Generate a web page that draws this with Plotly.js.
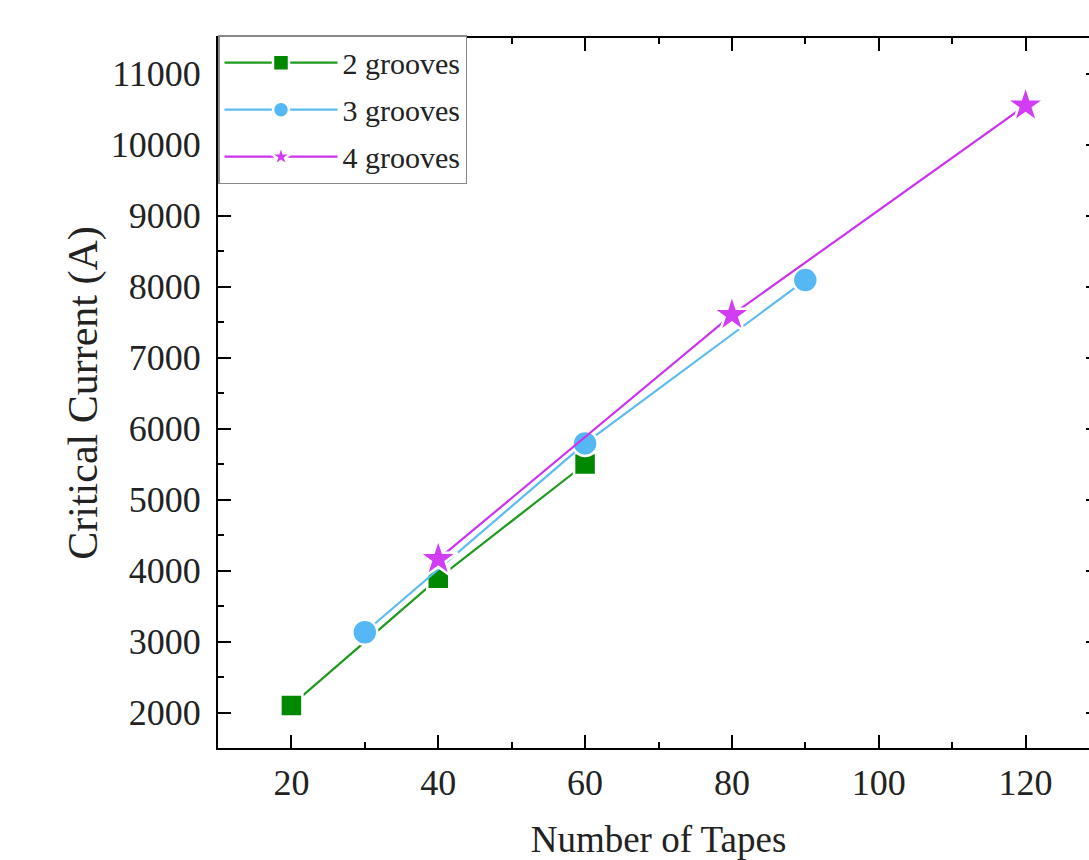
<!DOCTYPE html>
<html>
<head>
<meta charset="utf-8">
<script src="https://cdn.plot.ly/plotly-3.0.1.min.js"></script>
<style>
html, body { margin:0; padding:0; overflow:hidden; background:#fff; }
#chart { width:1110px; height:860px; }
</style>
</head>
<body>
<div id="chart"></div>
<script>
const tapes2 = [20, 40, 60];
const current2 = [2100, 3890, 5500];
const tapes3 = [30, 60, 90];
const current3 = [3130, 5790, 8090];
const tapes4 = [40, 80, 120];
const current4 = [4160, 7600, 10550];
const seriesNames = ['2 grooves', '3 grooves', '4 grooves'];

const font = 'Liberation Serif, Times New Roman, serif';

const traces = [
  {x: tapes2, y: current2, name: seriesNames[0], legendgroup: 'g2', mode: 'lines+markers', type: 'scatter',
   line: {color: '#1f9a1f', width: 2.2},
   marker: {symbol: 'square', size: 22, color: '#008800', line: {color: '#ffffff', width: 2.5}}},
  {x: tapes3, y: current3, name: seriesNames[1], legendgroup: 'g3', mode: 'lines+markers', type: 'scatter',
   line: {color: '#5bbcf0', width: 2.2},
   marker: {symbol: 'circle', size: 25, color: '#55b8f5', line: {color: '#ffffff', width: 2.5}}},
  {x: tapes4, y: current4, name: seriesNames[2], legendgroup: 'g4', mode: 'lines+markers', type: 'scatter',
   line: {color: '#cc33ee', width: 2.2},
   marker: {symbol: 'star', size: 29, color: '#d23cf5', line: {color: '#ffffff', width: 2.5}}}
];

const axisCommon = {
  showline: true, linecolor: '#000', linewidth: 2, mirror: 'allticks',
  ticks: 'inside', ticklen: 13, tickwidth: 2, tickcolor: '#000',
  showgrid: false, zeroline: false, tickformat: 'd',
  tickfont: {family: font, size: 36, color: '#222'}
};

const layout = {
  width: 1110, height: 860,
  margin: {l: 218, r: 11, t: 38, b: 112},
  paper_bgcolor: '#fff', plot_bgcolor: '#fff',
  showlegend: true,
  legend: {x: 0, y: 1.004, xanchor: 'left', yanchor: 'top',
    bgcolor: '#fff', bordercolor: '#888', borderwidth: 1.5,
    font: {family: font, size: 30, color: '#222'}, traceorder: 'grouped', tracegroupgap: 5, itemwidth: 113},
  xaxis: Object.assign({}, axisCommon, {
    range: [10, 130], dtick: 20, tick0: 0,
    minor: {dtick: 10, ticks: 'inside', ticklen: 6, tickwidth: 2, tickcolor: '#000'},
    ticklabelstandoff: 2,
    title: {text: 'Number of Tapes', font: {family: font, size: 37, color: '#222'}, standoff: 25}
  }),
  yaxis: Object.assign({}, axisCommon, {
    range: [1500, 11500], dtick: 1000, tick0: 0,
    minor: {dtick: 500, ticks: 'inside', ticklen: 6, tickwidth: 2, tickcolor: '#000'},
    ticklabelstandoff: 8,
    title: {text: '\u00a0\u00a0\u00a0\u00a0Critical Current (A)', font: {family: font, size: 42, color: '#222'}, standoff: 0}
  })
};

Plotly.newPlot('chart', traces, layout, {displayModeBar: false, staticPlot: true});
</script>
</body>
</html>
